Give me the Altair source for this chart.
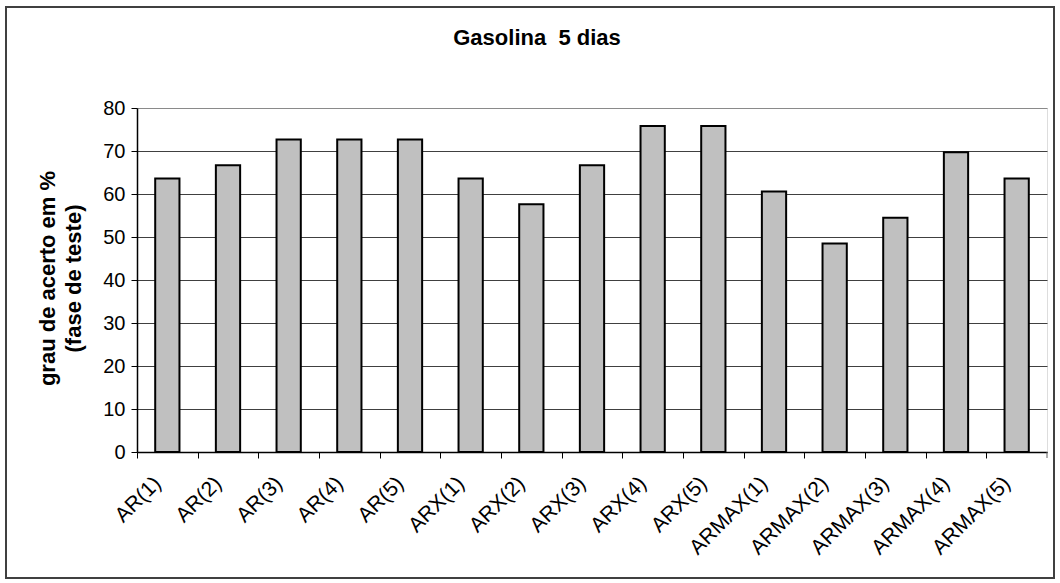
import altair as alt
import pandas as pd

# Hit rate (%) in the test phase for each model order
models = [
    "AR(1)", "AR(2)", "AR(3)", "AR(4)", "AR(5)",
    "ARX(1)", "ARX(2)", "ARX(3)", "ARX(4)", "ARX(5)",
    "ARMAX(1)", "ARMAX(2)", "ARMAX(3)", "ARMAX(4)", "ARMAX(5)",
]
acerto = [
    63.6, 66.7, 72.7, 72.7, 72.7,
    63.6, 57.6, 66.7, 75.8, 75.8,
    60.6, 48.5, 54.5, 69.7, 63.6,
]
y_ticks = [0, 10, 20, 30, 40, 50, 60, 70, 80]

df = pd.DataFrame({"modelo": models, "acerto": acerto})

W, H = 910, 344
STEP = W / len(models)
FONT = "Liberation Sans"

bars = alt.Chart(df).mark_bar(
    fill="#c0c0c0", stroke="#000000", strokeWidth=2
).encode(
    x=alt.X(
        "modelo:N",
        sort=models,
        title=None,
        scale=alt.Scale(paddingInner=0.6, paddingOuter=0.3),
        axis=alt.Axis(
            labelAngle=-45,
            labelAlign="right",
            labelBaseline="middle",
            labelFontSize=21,
            labelFont=FONT,
            labelColor="#000000",
            labelPadding=22,
            tickSize=6,
            tickColor="#000000",
            tickOffset=-STEP / 2,
            labelOffset=STEP / 2 - 10,
            domainColor="#000000",
            domainWidth=1.5,
            grid=False,
        ),
    ),
    y=alt.Y(
        "acerto:Q",
        scale=alt.Scale(domain=[0, 80], nice=False),
        title=["grau de acerto em %", "(fase de teste)"],
        axis=alt.Axis(
            values=y_ticks,
            labelFontSize=20,
            labelFont=FONT,
            labelColor="#000000",
            labelPadding=6,
            tickSize=6,
            tickColor="#000000",
            domainColor="#000000",
            domainWidth=1.5,
            grid=True,
            gridColor={
                "condition": {"test": "datum.value === 80", "value": "#8a8a8a"},
                "value": "#404040",
            },
            gridWidth=1,
            titleFont=FONT,
            titleFontSize=22,
            titleFontWeight="bold",
            titleColor="#000000",
            titleAngle=-90,
            titleAlign="center",
            titleBaseline="top",
            titleX=-100,
            titleY=H / 2 - 2,
            titleLineHeight=26,
        ),
    ),
)

# closing tick under the right edge of the plot area
end_tick = alt.Chart(pd.DataFrame({"k": [0]})).mark_rule(
    color="#606060", strokeWidth=1
).encode(x=alt.value(W), y=alt.value(H), y2=alt.value(H + 6))

# frame around the whole chart
frame = alt.Chart(pd.DataFrame({"k": [0]})).mark_rect(
    fill="transparent", stroke="#404040", strokeWidth=2
).encode(
    x=alt.value(-131), x2=alt.value(W + 7),
    y=alt.value(-101), y2=alt.value(H + 126),
)

chart = alt.layer(frame, bars, end_tick).properties(
    width=W,
    height=H,
    autosize=alt.AutoSizeParams(type="none"),
    padding={"left": 137, "top": 108, "right": 13, "bottom": 131},
    title=alt.TitleParams(
        "Gasolina \u00a05 dias",
        font=FONT,
        fontSize=22,
        fontWeight="bold",
        color="#000000",
        anchor="middle",
        frame="group",
        baseline="alphabetic",
        dx=-55,
        dy=61,
        offset=0,
    ),
).configure_view(
    stroke="#8a8a8a", strokeWidth=1.5
).configure(background="#ffffff")

chart.save("out.html", embed_options={"renderer": "svg", "actions": False})
